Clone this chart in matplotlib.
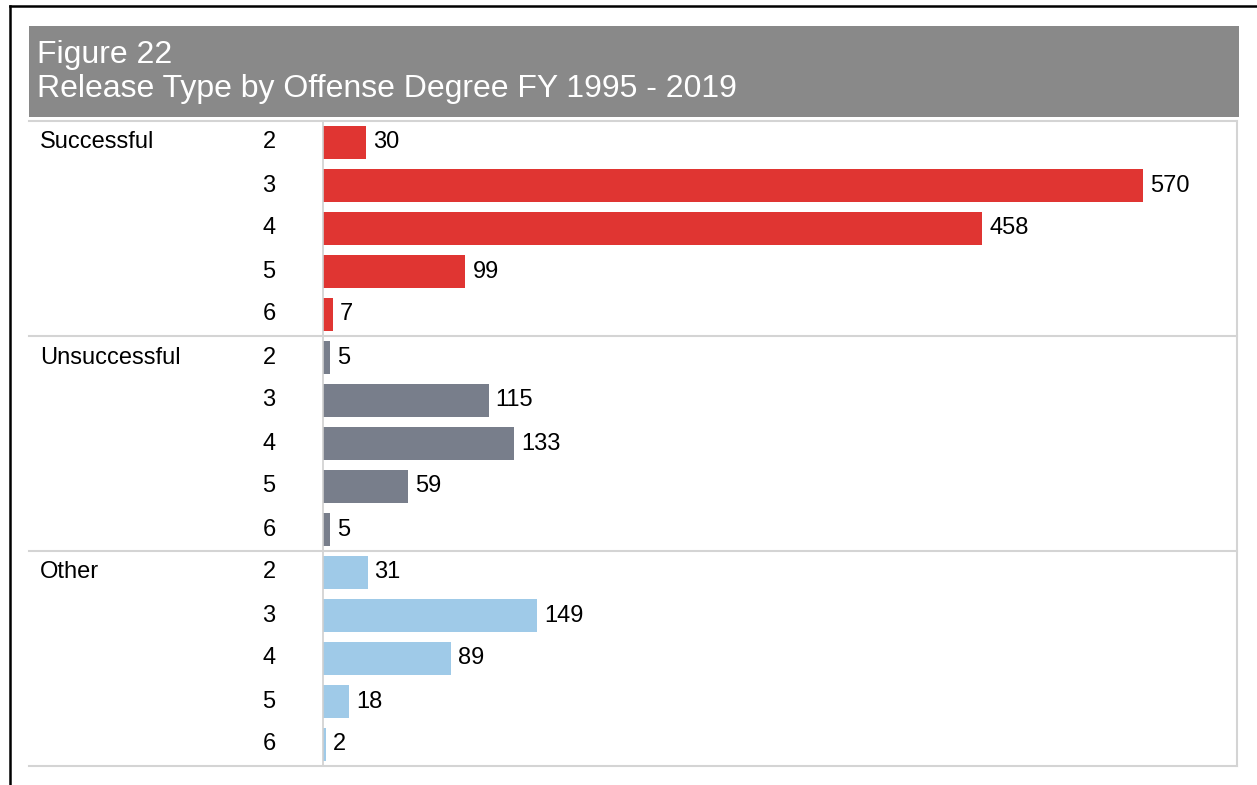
import matplotlib
matplotlib.use("Agg")
import matplotlib.pyplot as plt
from matplotlib.patches import Rectangle
from matplotlib.lines import Line2D
from matplotlib.transforms import blended_transform_factory

plt.rcParams['font.family'] = ['Liberation Sans', 'DejaVu Sans']

title_line1 = "Figure 22"
title_line2 = "Release Type by Offense Degree FY 1995 - 2019"
groups = ["Successful", "Unsuccessful", "Other"]
degrees = ["2", "3", "4", "5", "6"]
successful = [30, 570, 458, 99, 7]
unsuccessful = [5, 115, 133, 59, 5]
other = [31, 149, 89, 18, 2]
colors = ["#e03532", "#787e8b", "#9fcae8"]

W, H = 1257, 785
fig = plt.figure(figsize=(W / 100, H / 100), dpi=100)

def fx(px):
    return px / W

def fy(py):
    return 1 - py / H

LABEL_FS = 17

# axes region
ax = fig.add_axes([fx(323), fy(766), fx(1237) - fx(323), fy(121) - fy(766)])
series = [successful, unsuccessful, other]
row = 0
for gi, (vals, col) in enumerate(zip(series, colors)):
    ys = list(range(row, row + len(vals)))
    ax.barh(ys, vals, height=0.75, color=col, zorder=2)
    for y, v in zip(ys, vals):
        ax.annotate(str(v), (v, y), xytext=(5, 0), textcoords='offset points',
                    ha='left', va='center', fontsize=LABEL_FS, color='black')
    row += len(vals)
n = row
ax.set_xlim(0, 635)
ax.set_ylim(n - 0.5, -0.5)
ax.set_xticks([])
ax.set_yticks([])
for s in ['top', 'right', 'bottom']:
    ax.spines[s].set_visible(False)
ax.spines['left'].set_color('#cfcfcf')
ax.spines['left'].set_linewidth(1.2)

tr = blended_transform_factory(fig.transFigure, ax.transData)
row = 0
for gi, g in enumerate(groups):
    fig.text(fx(40), row, g, transform=tr, fontsize=LABEL_FS, ha='left', va='center')
    for di, d in enumerate(degrees):
        fig.text(fx(269), row + di, d, transform=tr, fontsize=LABEL_FS, ha='center', va='center')
    row += len(degrees)
    if gi < len(groups) - 1:
        fig.add_artist(Line2D([fx(29), fx(1237)], [row - 0.5, row - 0.5], transform=tr,
                              color='#d4d4d4', linewidth=1.5))

# panel border: top, right, bottom
lc = '#d4d4d4'
fig.add_artist(Line2D([fx(29), fx(1237)], [fy(121), fy(121)], color=lc, linewidth=1.5))
fig.add_artist(Line2D([fx(29), fx(1237)], [fy(766), fy(766)], color=lc, linewidth=1.5))
fig.add_artist(Line2D([fx(1237), fx(1237)], [fy(121), fy(766)], color=lc, linewidth=1.5))

# header
fig.add_artist(Rectangle((fx(29), fy(117)), fx(1239) - fx(29), fy(26) - fy(117),
                         transform=fig.transFigure, facecolor='#898989', edgecolor='none'))
fig.text(fx(37), fy(63), title_line1, color='white', fontsize=23, ha='left', va='baseline')
fig.text(fx(37), fy(97), title_line2, color='white', fontsize=23, ha='left', va='baseline')

# outer black border (top and left)
fig.add_artist(Line2D([fx(10), fx(1257)], [fy(6), fy(6)], color='black', linewidth=1.8))
fig.add_artist(Line2D([fx(10), fx(10)], [fy(6), fy(785)], color='black', linewidth=1.8))

fig.savefig("out.png", dpi=100)
